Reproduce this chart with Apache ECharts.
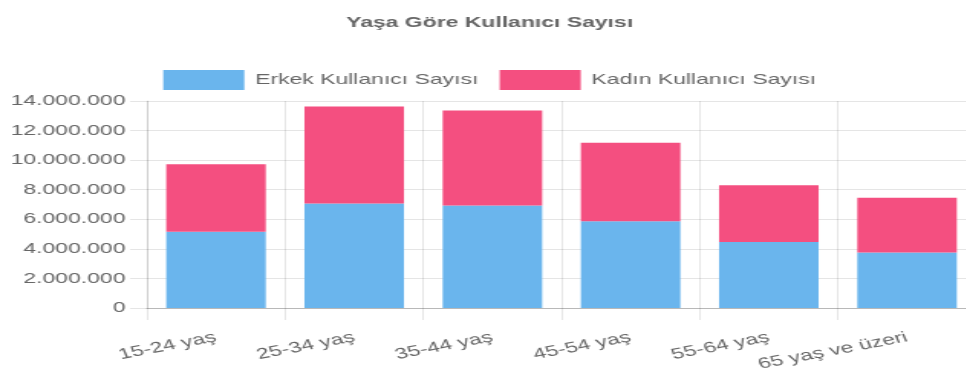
<!DOCTYPE html>
<html>
<head>
<meta charset="utf-8">
<script src="https://cdn.jsdelivr.net/npm/echarts@6/dist/echarts.min.js"></script>
<style>
  html, body { margin: 0; padding: 0; background: #fff; overflow: hidden; }
  #wrap { width: 966px; height: 383px; overflow: hidden; }
  /* chart is laid out narrow and stretched horizontally; its right edge runs past the page */
  #chart { width: 640px; height: 383px; transform: scaleX(1.53); transform-origin: 0 0; }
</style>
</head>
<body>
<div id="wrap"><div id="chart"></div></div>
<script>
const categories = ['15-24 yaş', '25-34 yaş', '35-44 yaş', '45-54 yaş', '55-64 yaş', '65 yaş ve üzeri'];
const maleUsers = [5150000, 7070000, 6940000, 5870000, 4470000, 3750000];
const femaleUsers = [4580000, 6550000, 6410000, 5310000, 3840000, 3700000];
const yTicks = { min: 0, max: 14000000, step: 2000000 };

const FONT = '"Liberation Sans", Arial, sans-serif';
const TEXT = '#666';
const GRID = 'rgba(0,0,0,0.1)';

const fmt = v => String(v).replace(/\B(?=(\d{3})+(?!\d))/g, '.');

const chart = echarts.init(document.getElementById('chart'), null, { renderer: 'canvas' });
chart.setOption({
  animation: false,
  title: {
    text: 'Yaşa Göre Kullanıcı Sayısı',
    left: 'center',
    top: 10,
    textStyle: { fontFamily: FONT, fontSize: 15, fontWeight: 'bold', color: TEXT }
  },
  legend: {
    top: 65,
    left: 'center',
    itemWidth: 53,
    itemHeight: 20,
    itemGap: 14,
    icon: 'rect',
    textStyle: { fontFamily: FONT, fontSize: 15, color: TEXT, padding: [0, 0, 0, 2] },
    data: ['Erkek Kullanıcı Sayısı', 'Kadın Kullanıcı Sayısı']
  },
  grid: { left: 96, right: 2, top: 101, bottom: 75, containLabel: false },
  xAxis: {
    type: 'category',
    data: categories,
    boundaryGap: true,
    axisLine: { show: true, lineStyle: { color: 'rgba(0,0,0,0.2)', width: 1 } },
    axisTick: { show: true, length: 12, interval: 0, lineStyle: { color: GRID } },
    splitLine: { show: true, interval: 0, lineStyle: { color: GRID } },
    axisLabel: {
      interval: 0,
      rotate: 16,
      margin: 29,
      fontFamily: FONT,
      fontSize: 15,
      color: TEXT
    }
  },
  yAxis: {
    type: 'value',
    min: yTicks.min,
    max: yTicks.max,
    interval: yTicks.step,
    axisLine: { show: true, lineStyle: { color: GRID } },
    axisTick: { show: true, length: 11, lineStyle: { color: GRID } },
    splitLine: { show: true, lineStyle: { color: GRID } },
    axisLabel: {
      margin: 14,
      fontFamily: FONT,
      fontSize: 15,
      color: TEXT,
      formatter: fmt
    }
  },
  series: [
    {
      name: 'Erkek Kullanıcı Sayısı',
      type: 'bar',
      stack: 'total',
      barWidth: '72%',
      data: maleUsers,
      itemStyle: { color: '#6AB5ED' }
    },
    {
      name: 'Kadın Kullanıcı Sayısı',
      type: 'bar',
      stack: 'total',
      barWidth: '72%',
      data: femaleUsers,
      itemStyle: { color: '#F44F80' }
    }
  ]
});
</script>
</body>
</html>
